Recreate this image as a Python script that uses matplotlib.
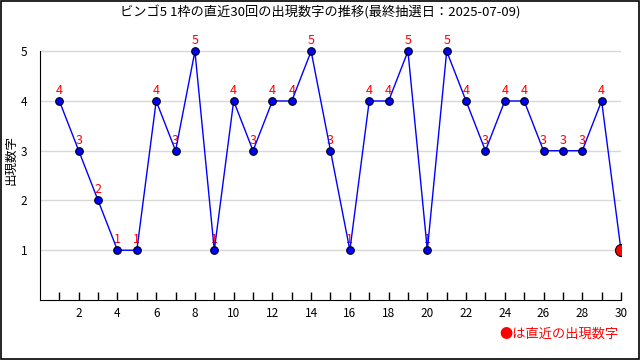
import matplotlib
matplotlib.use("Agg")
import matplotlib.pyplot as plt
from matplotlib.patches import Rectangle

plt.rcParams['font.family'] = ['Noto Sans CJK JP', 'DejaVu Sans']

draws = list(range(1, 31))
values = [4, 3, 2, 1, 1, 4, 3, 5, 1, 4, 3, 4, 4, 5, 3, 1, 4, 4, 5, 1,
          5, 4, 3, 4, 4, 3, 3, 3, 4, 1]
title = "ビンゴ5 1枠の直近30回の出現数字の推移(最終抽選日：2025-07-09)"
ylabel = "出現数字"
note = "●は直近の出現数字"
xticks = list(range(2, 31, 2))
yticks = [1, 2, 3, 4, 5]

fig = plt.figure(figsize=(6.4, 3.6), dpi=100)
ax = fig.add_axes([0.0625, 0.1667, 0.9078, 0.7463])
ax.set_xlim(0, 30)
ax.set_ylim(0, 5.4)

for y in yticks:
    ax.axhline(y, color='#d8d8d8', lw=1, zorder=0)

ax.plot(draws, values, color='#0000ff', lw=1, zorder=2)
ax.scatter(draws[:-1], values[:-1], s=30, color='#0000ff', edgecolor='black', lw=0.8, zorder=3)
ax.scatter([draws[-1]], [values[-1]], s=75, color='#ff0000', edgecolor='black', lw=0.8, zorder=4)

for x, v in zip(draws[:-1], values[:-1]):
    ax.annotate(str(v), (x, v), xytext=(0, 3), textcoords='offset points',
                ha='center', va='bottom', color='#ff0000', fontsize=9, zorder=1)

for s in ['top', 'right']:
    ax.spines[s].set_visible(False)
ax.spines['left'].set_color('black')
ax.spines['left'].set_bounds(0, 5)
ax.spines['bottom'].set_color('black')

ax.set_xticks(xticks)
ax.set_xticks(draws, minor=True)
ax.tick_params(axis='x', which='both', direction='in', length=6, width=1, labelsize=8.5, pad=5)
ax.set_yticks(yticks)
ax.tick_params(axis='y', length=0, labelsize=8.5, pad=9)

fig.text(11 / 640, 1 - 160 / 360, ylabel, rotation=90, ha='center', va='center', fontsize=9)
fig.text(0.5, 0.965, title, ha='center', va='center', fontsize=9.5)
fig.text(0.966, 0.07, note, ha='right', va='center', fontsize=9.5, color='#ff0000')

fig.add_artist(Rectangle((0.001, 0.002), 0.997, 0.995, transform=fig.transFigure,
                         fill=False, edgecolor='black', lw=1.2))

fig.savefig('out.png', dpi=100)
